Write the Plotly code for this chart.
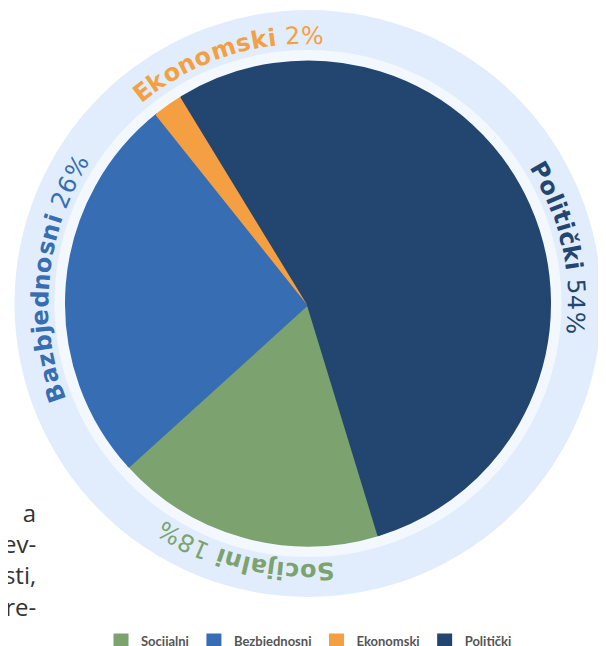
import math
import plotly.graph_objects as go

# ---------------- data ----------------
categories = ["Socijalni", "Bezbjednosni", "Ekonomski", "Politički"]
values = [18, 26, 2, 54]
slice_colors = ["#7CA270", "#366DB3", "#F4A042", "#22466F"]
ring_names = ["Socijalni", "Bazbjednosni", "Ekonomski", "Politički"]
ring_label_angles = [194.0, 275.8, 341.8, 77.5]   # centre of each curved label, deg clockwise from 12 o'clock
side_lines = ["a", "ev-", "sti,", "re-"]

# ---------------- geometry / style ----------------
# page has an 8px body margin, so the figure is drawn 8px in from the window edges
OFF = 8
W, H = 606 - OFF, 646 - OFF
CX, CY = 308, 303.5          # window pixel coordinates of the pie centre
R_PIE = 241.5
R_BAND = 253.5
R_RING = 293.5
R_TEXT = 268
R_ADV = 253
FS = 24

def px(x):
    return (x - OFF) / W

def py(y):
    return 1 - (y - OFF) / H

# approximate DejaVu Sans advance widths (em)
BOLD_W = {"a": .675, "b": .716, "c": .593, "č": .593, "d": .716, "e": .678, "i": .343, "j": .343,
          "k": .665, "l": .343, "m": 1.042, "n": .712, "o": .687, "s": .595, "t": .478, "z": .582,
          "B": .764, "E": .683, "P": .734, "S": .719}
REG_W = {" ": .318, "%": .950}
for d in "0123456789":
    REG_W[d] = .636

fig = go.Figure()

fig.add_trace(go.Pie(
    labels=categories,
    values=values,
    sort=False,
    direction="clockwise",
    rotation=163,
    textinfo="none",
    hoverinfo="label+percent",
    marker=dict(colors=slice_colors, line=dict(color=slice_colors, width=3)),
    domain=dict(x=[px(CX - R_PIE), px(CX + R_PIE)], y=[py(CY + R_PIE), py(CY - R_PIE)]),
))

shapes = [
    dict(type="circle", xref="paper", yref="paper", layer="below",
         x0=px(CX - R_RING), x1=px(CX + R_RING), y0=py(CY + R_RING), y1=py(CY - R_RING),
         fillcolor="#E1EDFD", line=dict(width=0)),
    dict(type="circle", xref="paper", yref="paper", layer="below",
         x0=px(CX - R_BAND), x1=px(CX + R_BAND), y0=py(CY + R_BAND), y1=py(CY - R_BAND),
         fillcolor="#F3F8FF", line=dict(width=0)),
]

annotations = []
for name, val, col, ang in zip(ring_names, values, slice_colors, ring_label_angles):
    pct = f"{val}%"
    chars = [(c, True) for c in name] + [(" ", False)] + [(c, False) for c in pct]
    advs = [(BOLD_W.get(c, .6) if b else REG_W.get(c, .6)) * FS for c, b in chars]
    total = sum(advs)
    start = ang - math.degrees(total / R_ADV) / 2
    cum = 0.0
    for (c, b), a in zip(chars, advs):
        theta = start + math.degrees((cum + a / 2) / R_ADV)
        cum += a
        if c == " ":
            continue
        t = math.radians(theta)
        x = CX + R_TEXT * math.sin(t)
        y = CY - R_TEXT * math.cos(t)
        rot = ((theta + 180) % 360) - 180
        annotations.append(dict(
            x=px(x), y=py(y), xref="paper", yref="paper", text=c, showarrow=False,
            xanchor="center", yanchor="middle", textangle=rot,
            font=dict(family="DejaVu Sans", size=FS, color=col, weight="bold" if b else "normal"),
        ))

# partially visible paragraph at the left edge
annotations.append(dict(
    x=px(38), y=py(559), xref="paper", yref="paper", text="<br>".join(side_lines),
    showarrow=False, xanchor="right", yanchor="middle", align="right",
    font=dict(family="Open Sans", size=24, color="#333333"),
))

fig.update_layout(
    width=W, height=H, autosize=False,
    margin=dict(l=0, r=0, t=0, b=0, autoexpand=False),
    paper_bgcolor="white", plot_bgcolor="white",
    shapes=shapes,
    annotations=annotations,
    showlegend=True,
    legend=dict(orientation="h", x=px(309), xanchor="center", y=py(641), yanchor="middle",
                font=dict(family="Lato", size=13, color="#555555", weight="bold"),
                bgcolor="rgba(0,0,0,0)", traceorder="normal"),
)

fig.write_html("out.html")
